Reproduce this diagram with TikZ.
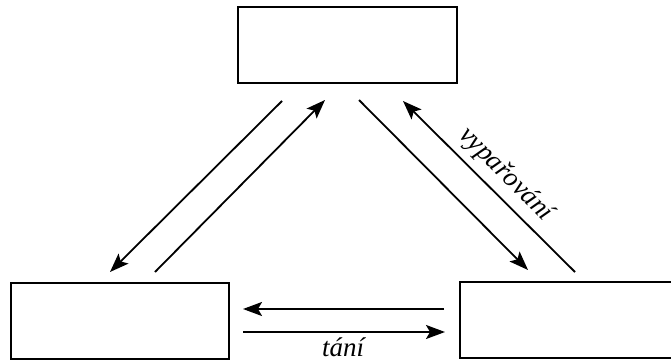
\documentclass[tikz,border=0pt]{standalone}
\usepackage{fontspec}
\setmainfont{Liberation Serif}
\usetikzlibrary{arrows.meta}
\begin{document}
\begin{tikzpicture}[x=1pt,y=-1pt,
  box/.style={draw,line width=2pt,inner sep=0pt},
  flow/.style={line width=1.8pt,-{Stealth[length=19pt,width=14pt,inset=4pt]}},
  lbl/.style={font=\fontsize{27}{31}\selectfont\itshape,inner sep=0pt}]
\useasboundingbox (0,0) rectangle (671,361);
\node[box,minimum width=219pt,minimum height=76pt] (top) at (347.5,45) {};
\node[box,minimum width=218pt,minimum height=76pt] (bl) at (120,321) {};
\node[box,minimum width=212pt,minimum height=76pt] (br) at (566,320) {};
% left pair
\coordinate (a1) at (282,101); \coordinate (a2) at (110,272);
\coordinate (b1) at (155,272); \coordinate (b2) at (325,100);
\draw[flow] (a1) -- (a2);
\draw[flow] (b1) -- (b2);
% right pair
\coordinate (c1) at (359,100); \coordinate (c2) at (528,270);
\coordinate (d1) at (575,272); \coordinate (d2) at (403,101);
\draw[flow] (c1) -- (c2);
\draw[flow] (d1) -- (d2);
\node[lbl,rotate=-45,anchor=base] (vyp) at (501,179) {vypařování};
% horizontal pair
\coordinate (e1) at (444,309); \coordinate (e2) at (243,309);
\coordinate (f1) at (243,332); \coordinate (f2) at (445,332);
\draw[flow] (e1) -- (e2);
\draw[flow] (f1) -- (f2);
\node[lbl,anchor=base] (tani) at (343,356) {tání};
\end{tikzpicture}
\end{document}
